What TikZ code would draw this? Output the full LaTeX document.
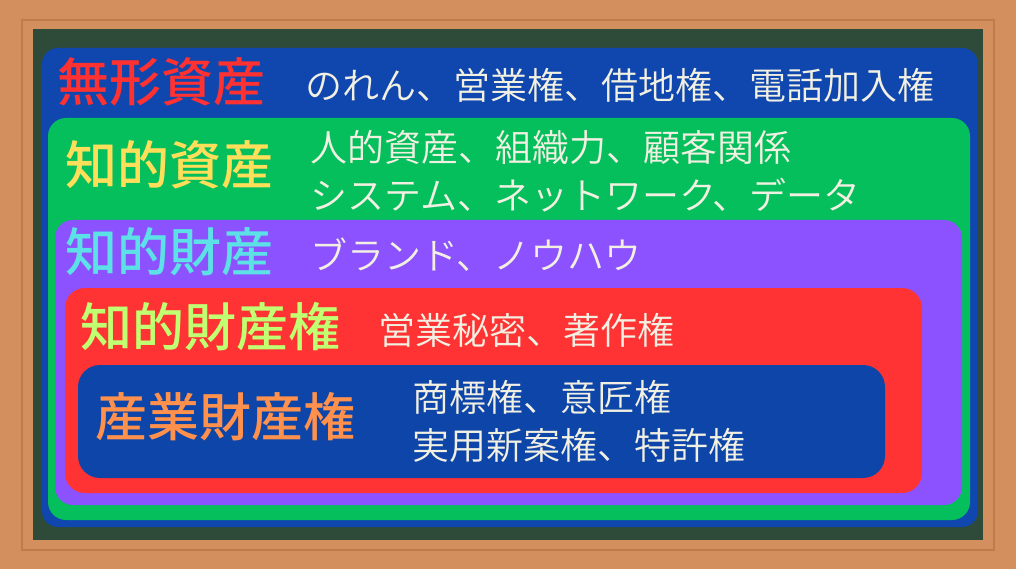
\documentclass[tikz,border=0pt]{standalone}
\usepackage{fontspec}
\usepackage{tikz}
\newfontfamily\cjk{Noto Sans CJK JP DemiLight}
\newfontfamily\cjkbold{Noto Sans CJK JP Medium}
\definecolor{woodframe}{HTML}{D48F5E}
\definecolor{woodedge}{HTML}{C07A4C}
\definecolor{boardgreen}{HTML}{2E4A38}
\definecolor{layerblue}{HTML}{0F47AE}
\definecolor{layergreen}{HTML}{04BF5C}
\definecolor{layerpurple}{HTML}{8C52FF}
\definecolor{layerred}{HTML}{FF3333}
\definecolor{layernavy}{HTML}{0D45A8}
\definecolor{titlered}{HTML}{FF3131}
\definecolor{titleyellow}{HTML}{FFDE59}
\definecolor{titlecyan}{HTML}{5CE1E6}
\definecolor{titlelime}{HTML}{C1FF72}
\definecolor{titleorange}{HTML}{FF914D}
\definecolor{chalk}{HTML}{F2F0E2}
\tikzset{
  title/.style={anchor=west, inner sep=0pt, font=\fontsize{52}{52}\selectfont\cjkbold},
  item/.style={anchor=west, inner sep=0pt, chalk, font=\fontsize{37}{37}\selectfont\cjk}
}

\begin{document}
\begin{tikzpicture}[x=1pt, y=-1pt]
  % Wooden frame and chalkboard
  \fill[woodframe] (0,0) rectangle (1016,569);
  \draw[woodedge, line width=1.5pt] (22,20) rectangle (994,550);
  \fill[boardgreen] (33,29) rectangle (983,540);

  % Nested layers (outer to inner)
  \fill[layerblue, rounded corners=16pt] (42,48) rectangle (978,527);
  \fill[layergreen, rounded corners=18pt] (48,118) rectangle (970,520);
  \fill[layerpurple, rounded corners=18pt] (55,220) rectangle (962,505);
  \fill[layerred, rounded corners=20pt] (65,288) rectangle (922,493);
  \fill[layernavy, rounded corners=22pt] (78,365) rectangle (885,478);

  % Layer 1 - intangible assets
  \node[title, titlered] (mukei) at (57,82) {無形資産};
  \node[item] (mukeiitems) at (305,85) {のれん、営業権、借地権、電話加入権};

  % Layer 2 - intellectual assets
  \node[title, titleyellow] (chiteki) at (65,165) {知的資産};
  \node[item] (chitekiitems) at (310,147) {人的資産、組織力、顧客関係};
  \node[item] (chitekiitemsb) at (310,195) {システム、ネットワーク、データ};

  % Layer 3 - intellectual property
  \node[title, titlecyan] (zaisan) at (65,252) {知的財産};
  \node[item] (zaisanitems) at (310,255) {ブランド、ノウハウ};

  % Layer 4 - intellectual property rights
  \node[title, titlelime] (kenri) at (80,327) {知的財産権};
  \node[item] (kenriitems) at (378,330) {営業秘密、著作権};

  % Layer 5 - industrial property rights
  \node[title, titleorange] (sangyo) at (95,417) {産業財産権};
  \node[item] (sangyoitems) at (412,397) {商標権、意匠権};
  \node[item] (sangyoitemsb) at (412,445) {実用新案権、特許権};
\end{tikzpicture}
\end{document}
